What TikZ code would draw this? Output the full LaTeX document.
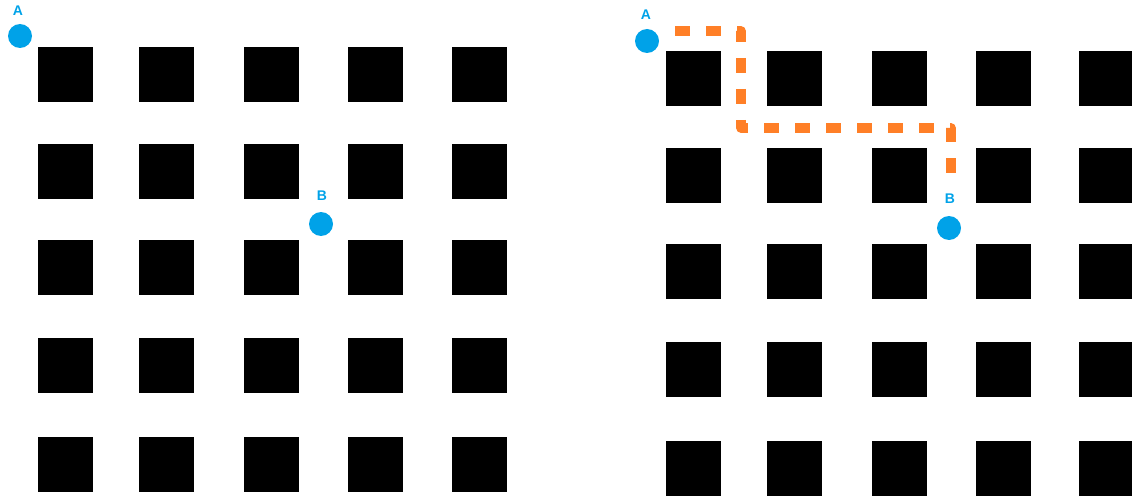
\documentclass[tikz,border=0pt]{standalone}
\usepackage{fontspec}
\setmainfont{Liberation Sans}
\definecolor{dotblue}{RGB}{0,162,232}
\definecolor{pathorange}{RGB}{255,127,39}
\begin{document}
\begin{tikzpicture}[x=1pt,y=-1pt,
  block/.style={fill=black,draw=none,inner sep=0pt,minimum size=55pt,anchor=north west},
  dot/.style={circle,fill=dotblue,draw=none,inner sep=0pt,minimum size=24pt},
  dotlabel/.style={text=dotblue,font=\fontsize{14}{14}\selectfont\bfseries,inner sep=0pt},
  route/.style={draw=pathorange,line width=9.5pt,dash pattern=on 15pt off 16pt,line join=round}]
\useasboundingbox (0,0) rectangle (1132,500);
% left grid
\foreach \x [count=\i] in {38,139,244,348,452}{
  \foreach \y [count=\j] in {47,144,240,338,437}{
    \node[block] (L\i\j) at (\x,\y) {};
  }
}
% right grid
\foreach \x [count=\i] in {666,767,872,976,1079}{
  \foreach \y [count=\j] in {51,148,244,342,441}{
    \node[block] (R\i\j) at (\x,\y) {};
  }
}
% left dots
\node[dot] (LA) at (20,36) {};
\node[dotlabel] (LAt) at (18,11) {A};
\node[dot] (LB) at (321,224) {};
\node[dotlabel] (LBt) at (322,196) {B};
% right dots
\node[dot] (RA) at (647,41) {};
\node[dotlabel] (RAt) at (646,15) {A};
\node[dot] (RB) at (949,228) {};
\node[dotlabel] (RBt) at (950,199) {B};
% route
\coordinate (p0) at (675,31);
\coordinate (p1) at (741,31);
\coordinate (p2) at (741,128);
\coordinate (p3) at (951,128);
\coordinate (p4) at (951,181);
\draw[route] (p0) -- (p1) -- (p2) -- (p3) -- (p4);
\end{tikzpicture}
\end{document}
